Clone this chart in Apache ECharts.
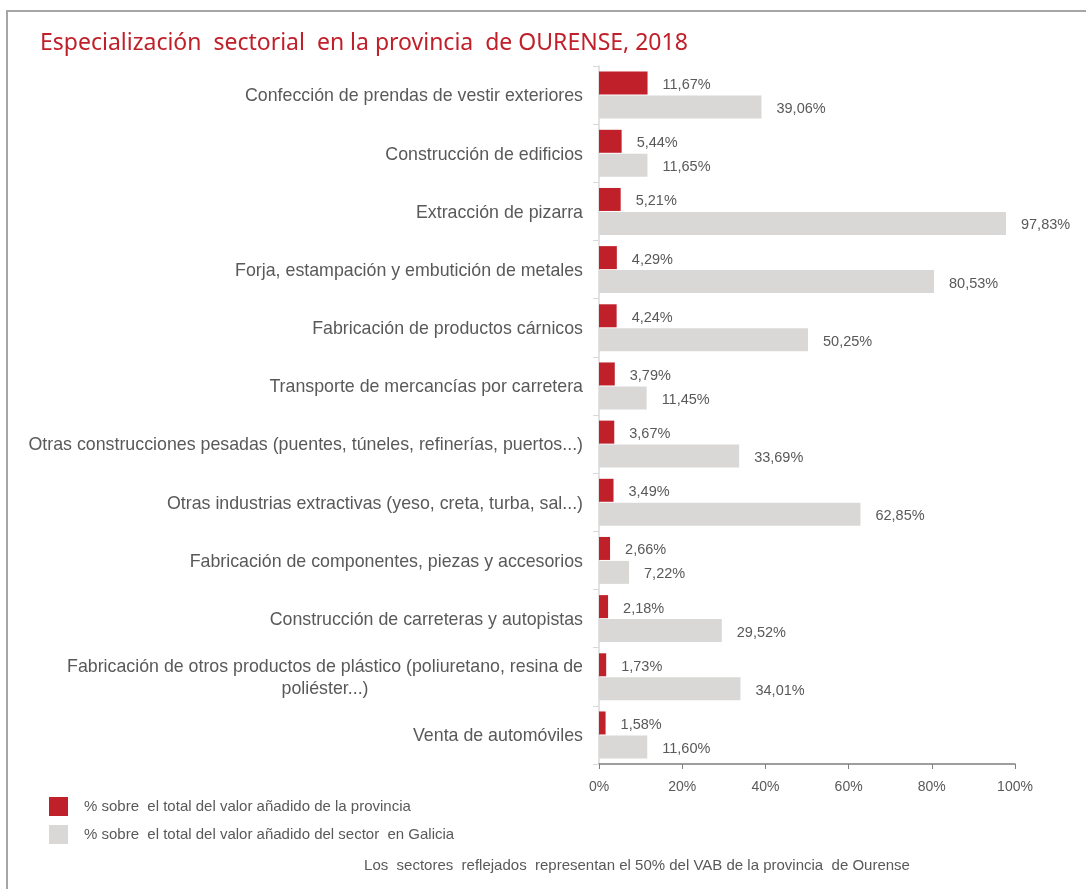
<!DOCTYPE html>
<html>
<head>
<meta charset="utf-8">
<script src="https://cdn.jsdelivr.net/npm/echarts@6/dist/echarts.min.js"></script>
<style>
html,body{margin:0;padding:0;background:#fff;}
#c{width:1086px;height:889px;}
</style>
</head>
<body>
<div id="c"></div>
<script>
var categories = [
  "Confección de prendas de vestir exteriores",
  "Construcción de edificios",
  "Extracción de pizarra",
  "Forja, estampación y embutición de metales",
  "Fabricación de productos cárnicos",
  "Transporte de mercancías por carretera",
  "Otras construcciones pesadas (puentes, túneles, refinerías, puertos...)",
  "Otras industrias extractivas (yeso, creta, turba, sal...)",
  "Fabricación de componentes, piezas y accesorios",
  "Construcción de carreteras y autopistas",
  "Fabricación de otros productos de plástico (poliuretano, resina de\npoliéster...)",
  "Venta de automóviles"
];
var provinciaValues = [11.67, 5.44, 5.21, 4.29, 4.24, 3.79, 3.67, 3.49, 2.66, 2.18, 1.73, 1.58];
var galiciaValues = [39.06, 11.65, 97.83, 80.53, 50.25, 11.45, 33.69, 62.85, 7.22, 29.52, 34.01, 11.60];
var xTicks = [0, 20, 40, 60, 80, 100];
var seriesNames = [
  "% sobre  el total del valor añadido de la provincia",
  "% sobre  el total del valor añadido del sector  en Galicia"
];
var titleText = "Especialización  sectorial  en la provincia  de OURENSE, 2018";
var footnote = "Los  sectores  reflejados  representan el 50% del VAB de la provincia  de Ourense";

var TXT = "#595959";
var FONT = "Liberation Sans";
function pct(v){ return v.toFixed(2).replace('.', ',') + '%'; }

var chart = echarts.init(document.getElementById('c'), null, {renderer:'canvas'});
chart.setOption({
  animation:false,
  backgroundColor:'#ffffff',
  title:{
    text:titleText, left:35, top:27, padding:[5,5,5,5],
    textStyle:{color:'#C0202A', fontSize:23, fontWeight:'normal', fontFamily:'Noto Sans'}
  },
  graphic:[
    {type:'rect', shape:{x:7, y:11, width:1200, height:1000}, style:{fill:null, stroke:'#A6A6A6', lineWidth:2}, silent:true},
    {type:'text', x:637, y:866, style:{text:footnote, textAlign:'center', textVerticalAlign:'middle', fill:TXT, fontSize:15, fontFamily:FONT}}
  ],
  legend:{
    orient:'vertical', left:49, top:797, itemWidth:19, itemHeight:19, itemGap:9, padding:0,
    icon:'rect',
    textStyle:{color:TXT, fontSize:15, fontFamily:FONT, padding:[0,0,0,11]},
    data:seriesNames
  },
  grid:{left:599, right:71, top:66, bottom:125, containLabel:false},
  xAxis:{
    type:'value', min:0, max:100, interval:20,
    axisLine:{show:true, lineStyle:{color:'#7F7F7F', width:1.5}},
    axisTick:{show:true, length:5, lineStyle:{color:'#7F7F7F'}},
    splitLine:{show:false},
    axisLabel:{color:TXT, fontSize:14, fontFamily:FONT, margin:16,
      formatter:function(v){ return xTicks.indexOf(v) >= 0 ? v + '%' : ''; }}
  },
  yAxis:{
    type:'category', inverse:true, data:categories,
    axisLine:{show:true, lineStyle:{color:'#D9D9D9', width:1.5}},
    axisTick:{show:true, length:6, lineStyle:{color:'#D9D9D9'}},
    axisLabel:{color:TXT, fontSize:17.8, fontFamily:FONT, margin:16, lineHeight:22,
      formatter:function(v){
        return v.split('\n').map(function(l){ return '{c|' + l + '}'; }).join('\n');
      },
      rich:{c:{align:'center', color:TXT, fontSize:17.8, fontFamily:FONT, lineHeight:22, padding:[3,0,0,0]}}
    }
  },
  series:[
    {name:seriesNames[0], type:'bar', data:provinciaValues, barWidth:23, barGap:'4%',
      itemStyle:{color:'#C0202A'},
      label:{show:true, position:'right', distance:15, offset:[0,2], color:TXT, fontSize:14.5, fontFamily:FONT,
        formatter:function(p){ return pct(p.value); }}},
    {name:seriesNames[1], type:'bar', data:galiciaValues, barWidth:23,
      itemStyle:{color:'#D9D8D7'},
      label:{show:true, position:'right', distance:15, offset:[0,2], color:TXT, fontSize:14.5, fontFamily:FONT,
        formatter:function(p){ return pct(p.value); }}}
  ]
});
</script>
</body>
</html>
